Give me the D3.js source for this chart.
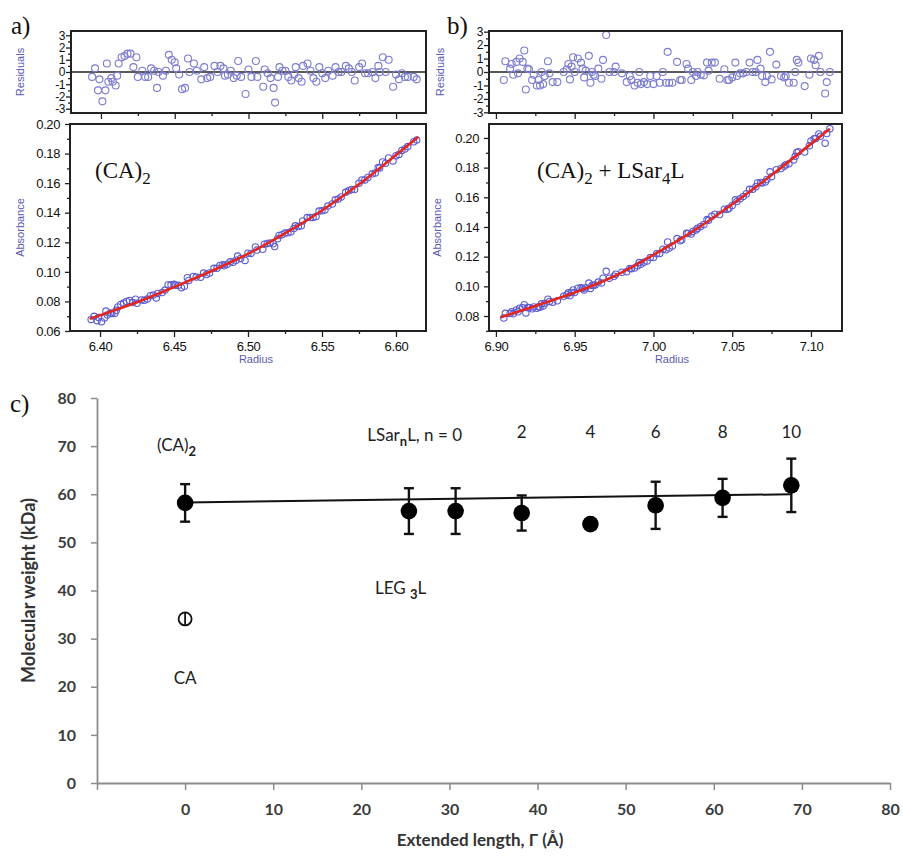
<!DOCTYPE html>
<html>
<head>
<meta charset="utf-8">
<script src="https://cdn.jsdelivr.net/npm/d3@7"></script>
<style>
  body { margin: 0; background: #fff; }
</style>
</head>
<body>
<svg width="903" height="860"></svg>
<script>
// ---- panel a : (CA)2 ----
var radiusA = [6.394,6.396,6.398,6.399,6.401,6.403,6.404,6.405,6.407,6.408,
  6.410,6.411,6.412,6.414,6.416,6.418,6.420,6.422,6.424,6.425,
  6.428,6.430,6.432,6.434,6.436,6.438,6.439,6.442,6.444,6.446,
  6.448,6.450,6.451,6.453,6.455,6.457,6.459,6.460,6.463,6.465,
  6.468,6.470,6.472,6.474,6.477,6.479,6.481,6.483,6.484,6.486,
  6.488,6.490,6.492,6.493,6.495,6.498,6.500,6.502,6.505,6.506,
  6.510,6.511,6.513,6.515,6.517,6.518,6.520,6.521,6.523,6.525,
  6.527,6.529,6.531,6.532,6.534,6.536,6.537,6.540,6.542,6.544,
  6.546,6.548,6.550,6.552,6.554,6.557,6.559,6.561,6.563,6.566,
  6.568,6.570,6.572,6.575,6.577,6.579,6.581,6.584,6.586,6.588,
  6.589,6.591,6.593,6.595,6.598,6.600,6.602,6.604,6.606,6.608,
  6.612,6.614];
var residA = [-0.4,0.3,-1.5,-0.6,-2.4,-1.5,0.7,-0.8,-0.5,-0.8,
  -1.1,-0.3,0.7,1.2,1.3,1.5,1.5,0.4,1.2,-0.4,
  0.1,-0.4,-0.4,0.3,0.1,-1.3,0,-0.3,0.1,1.4,
  1.0,0.8,0.3,-0.2,-1.4,-1.3,1.1,0,0.7,0.1,
  -0.6,0.4,-0.5,-0.4,0.5,0,0.5,0.3,-0.3,-0.2,
  0.1,-0.5,-0.3,0.9,-0.4,-1.8,0.2,-0.4,0.9,-0.4,
  -1.2,0.2,-0.1,-0.5,-1.3,-2.5,-0.4,0.4,0.1,0.1,
  -0.4,-0.7,-0.2,0.4,-0.5,-0.8,0.5,0.7,0.1,-0.5,
  -0.8,0.4,-0.1,-0.5,0.1,-0.3,0.4,0,0,0.5,
  0.3,0,-0.7,0.4,0.7,-0.1,-0.1,0,-0.5,0.5,
  0,1.2,0,1.0,-1.2,-0.2,-0.6,-0.1,-0.4,-0.4,
  -0.4,-0.6];
var absA = [0.0678,0.0699,0.0670,0.0691,0.0663,0.0688,0.0735,0.0709,0.0722,0.0719,
  0.0720,0.0740,0.0763,0.0780,0.0789,0.0800,0.0807,0.0792,0.0815,0.0787,
  0.0810,0.0808,0.0816,0.0839,0.0843,0.0824,0.0854,0.0860,0.0877,0.0911,
  0.0912,0.0916,0.0910,0.0909,0.0893,0.0903,0.0960,0.0942,0.0969,0.0965,
  0.0964,0.0992,0.0982,0.0993,0.1024,0.1024,0.1043,0.1048,0.1041,0.1052,
  0.1068,0.1065,0.1079,0.1107,0.1091,0.1077,0.1126,0.1125,0.1168,0.1147,
  0.1153,0.1187,0.1192,0.1195,0.1190,0.1171,0.1224,0.1246,0.1251,0.1262,
  0.1264,0.1271,0.1293,0.1311,0.1306,0.1312,0.1344,0.1367,0.1367,0.1368,
  0.1374,0.1411,0.1413,0.1419,0.1445,0.1459,0.1487,0.1493,0.1507,0.1538,
  0.1548,0.1557,0.1557,0.1600,0.1622,0.1622,0.1638,0.1663,0.1669,0.1705,
  0.1703,0.1743,0.1735,0.1770,0.1750,0.1786,0.1794,0.1821,0.1831,0.1847,
  0.1880,0.1892];
var fitRadiusA = [6.393,6.400,6.425,6.450,6.475,6.500,6.525,6.550,6.575,6.600,6.615];
var fitAbsA    = [0.0682,0.0707,0.0795,0.0897,0.1004,0.1122,0.1260,0.1415,0.1592,0.1790,0.1912];

// ---- panel b : (CA)2 + LSar4L ----
var radiusB = [6.905,6.906,6.909,6.910,6.911,6.913,6.914,6.915,6.917,6.918,
  6.919,6.920,6.921,6.923,6.924,6.926,6.927,6.928,6.929,6.930,
  6.931,6.933,6.934,6.936,6.939,6.943,6.945,6.946,6.947,6.948,
  6.949,6.950,6.952,6.954,6.955,6.956,6.957,6.959,6.960,6.961,
  6.962,6.963,6.965,6.967,6.968,6.970,6.972,6.975,6.976,6.980,
  6.983,6.985,6.986,6.988,6.990,6.991,6.992,6.994,6.996,6.998,
  7.000,7.002,7.004,7.006,7.008,7.009,7.010,7.012,7.015,7.017,
  7.018,7.021,7.022,7.024,7.025,7.027,7.028,7.030,7.032,7.034,
  7.035,7.037,7.039,7.042,7.045,7.047,7.048,7.050,7.052,7.053,
  7.055,7.057,7.059,7.061,7.063,7.065,7.066,7.068,7.069,7.071,
  7.072,7.074,7.075,7.078,7.081,7.083,7.084,7.086,7.089,7.090,
  7.091,7.092,7.096,7.099,7.100,7.102,7.103,7.105,7.106,7.109,
  7.110,7.112];
var residB = [-0.6,0.8,0.25,0.6,-0.2,0.75,-0.1,1.0,0.75,1.6,
  -1.3,0.25,0.2,-0.6,-0.2,-1.0,-0.6,-1.0,0,-0.9,
  -0.3,0.8,-0.1,-0.75,-0.75,0,0.2,0.6,-0.55,0.4,
  1.1,0,1.0,0.7,0.25,-0.4,0.1,1.2,-0.8,0,
  -0.2,-0.3,0.25,-0.5,0.9,2.75,0,0,0.4,-0.1,
  -0.75,-0.3,-0.6,-1.0,-0.8,0,-0.9,-0.75,-0.9,-0.3,
  -0.9,-0.3,-0.8,0,-0.8,1.5,-0.8,-0.8,0.75,-0.6,
  -0.6,0.6,0.25,-0.6,0,-0.3,0,-0.2,-0.25,0.7,
  0.1,0.7,0.7,-0.5,0.2,-0.6,-0.6,-0.4,0.7,-0.3,
  -0.1,-0.1,0,0.7,0,0,0.9,0.25,-0.3,-0.75,
  -0.3,1.5,-0.55,0.55,-0.3,-0.4,-0.3,-0.8,-0.8,0,
  0.9,0.7,-1.05,-0.2,1.0,0.9,0.5,1.2,0,-1.6,
  -0.75,0];
var absB = [0.0786,0.0818,0.0817,0.0828,0.0815,0.0841,0.0828,0.0853,0.0855,0.0876,
  0.0821,0.0856,0.0858,0.0849,0.0861,0.0852,0.0863,0.0859,0.0882,0.0868,
  0.0884,0.0913,0.0898,0.0893,0.0903,0.0933,0.0944,0.0956,0.0936,0.0959,
  0.0976,0.0958,0.0987,0.0990,0.0985,0.0976,0.0991,0.1022,0.0986,0.1006,
  0.1007,0.1009,0.1029,0.1023,0.1055,0.1101,0.1055,0.1068,0.1082,0.1095,
  0.1099,0.1120,0.1119,0.1123,0.1138,0.1160,0.1148,0.1162,0.1171,0.1194,
  0.1194,0.1219,0.1221,0.1250,0.1247,0.1299,0.1259,0.1272,0.1322,0.1307,
  0.1314,0.1357,0.1356,0.1352,0.1370,0.1379,0.1392,0.1403,0.1416,0.1450,
  0.1445,0.1472,0.1486,0.1484,0.1520,0.1519,0.1526,0.1545,0.1583,0.1571,
  0.1590,0.1606,0.1624,0.1654,0.1655,0.1671,0.1697,0.1700,0.1697,0.1703,
  0.1720,0.1772,0.1739,0.1786,0.1794,0.1809,0.1820,0.1826,0.1852,0.1876,
  0.1902,0.1907,0.1905,0.1948,0.1980,0.1995,0.1996,0.2027,0.2011,0.1965,
  0.2030,0.2062];
var fitRadiusB = [6.903,6.925,6.950,6.975,7.000,7.025,7.050,7.075,7.100,7.112];
var fitAbsB    = [0.0791,0.0868,0.0958,0.1068,0.1212,0.1370,0.1553,0.1750,0.1960,0.2062];

// ---- panel c : molecular weight vs extended length ----
var lengths  = [0, 25.4, 30.7, 38.2, 46.0, 53.4, 61.0, 68.8];
var mw       = [58.2, 56.5, 56.5, 56.1, 53.8, 57.7, 59.25, 61.85];
var mwErr    = [3.9, 4.75, 4.75, 3.65, 0, 4.9, 3.95, 5.55];
var caLength = [0];
var caMw     = [34.1];
var caErr    = [1.3];
var fitLength = [0, 68.8];
var fitMw     = [58.3, 60.0];
var nValues  = ["2", "4", "6", "8", "10"];
var nLengths = [38.2, 46.0, 53.4, 61.0, 68.8];
var xTicksC  = [-10, 0, 10, 20, 30, 40, 50, 60, 70, 80];
var yTicksC  = [0, 10, 20, 30, 40, 50, 60, 70, 80];

var SANS  = "'Liberation Sans', Arial, sans-serif";
var SERIF = "'Liberation Serif', 'Times New Roman', serif";
var CAL   = "Lato, 'Open Sans', sans-serif";
var BLUE_LABEL = "#5a5ab4";

var svg = d3.select("svg");

function styleAxis(sel, size) {
    sel.select(".domain").remove();
    sel.selectAll(".tick line").attr("stroke", "#222").attr("stroke-width", 1.3);
    sel.selectAll(".tick text")
        .attr("fill", "#111")
        .style("font-family", SANS)
        .style("font-size", size + "px")
        .style("letter-spacing", "-0.4px");
}

function range(a, b, step) {
    var out = [];
    for (var v = a; v <= b + 1e-9; v += step) out.push(+v.toFixed(4));
    return out;
}

function drawResiduals(cfg) {
    var x = d3.scaleLinear().domain(cfg.xDomain).range([cfg.left, cfg.right]);
    var y = d3.scaleLinear().domain(cfg.yDomain).range([cfg.bottom, cfg.top]);
    var g = svg.append("g");

    g.append("g").attr("transform", "translate(" + cfg.left + ",0)")
        .call(d3.axisLeft(y).tickValues(range(-2.5, 2.5, 1)).tickSize(3).tickFormat(""))
        .call(styleAxis, 11);
    g.append("g").attr("transform", "translate(" + cfg.left + ",0)")
        .call(d3.axisLeft(y).tickValues(range(-3, 3, 1)).tickSize(5).tickPadding(1)
              .tickFormat(function(d) { return String(d); }))
        .call(styleAxis, 12);
    g.append("g").attr("transform", "translate(0," + cfg.bottom + ")")
        .call(d3.axisBottom(x).tickValues(cfg.minorX).tickSize(3).tickFormat(""))
        .call(styleAxis, 11);
    g.append("g").attr("transform", "translate(0," + cfg.bottom + ")")
        .call(d3.axisBottom(x).tickValues(cfg.majorX).tickSize(6).tickFormat(""))
        .call(styleAxis, 11);

    g.append("line")
        .attr("x1", cfg.left).attr("x2", cfg.right)
        .attr("y1", y(0)).attr("y2", y(0))
        .attr("stroke", "#222").attr("stroke-width", 1.6);

    g.selectAll("circle.res")
        .data(cfg.radius)
      .enter().append("circle")
        .attr("class", "res")
        .attr("cx", function(d) { return x(d); })
        .attr("cy", function(d, i) { return y(cfg.resid[i]); })
        .attr("r", 3.5)
        .attr("fill", "none")
        .attr("stroke", "#7c7cd0")
        .attr("stroke-width", 1.1);

    g.append("rect")
        .attr("x", cfg.left).attr("y", cfg.top)
        .attr("width", cfg.right - cfg.left).attr("height", cfg.bottom - cfg.top)
        .attr("fill", "none").attr("stroke", "#222").attr("stroke-width", 2);

    g.append("text")
        .attr("transform", "translate(" + cfg.labelX + "," + ((cfg.top + cfg.bottom) / 2) + ") rotate(-90)")
        .attr("text-anchor", "middle")
        .attr("dy", "0.35em")
        .attr("fill", BLUE_LABEL)
        .style("font-family", SANS).style("font-size", "11px")
        .text("Residuals");
}

function drawAbsorbance(cfg) {
    var x = d3.scaleLinear().domain(cfg.xDomain).range([cfg.left, cfg.right]);
    var y = d3.scaleLinear().domain(cfg.yDomain).range([cfg.bottom, cfg.top]);
    var g = svg.append("g");

    g.append("g").attr("transform", "translate(" + cfg.left + ",0)")
        .call(d3.axisLeft(y).tickValues(cfg.minorY).tickSize(3).tickFormat(""))
        .call(styleAxis, 12);
    g.append("g").attr("transform", "translate(" + cfg.left + ",0)")
        .call(d3.axisLeft(y).tickValues(cfg.majorY).tickSize(5).tickPadding(5)
              .tickFormat(d3.format(".2f")))
        .call(styleAxis, 13);
    g.append("g").attr("transform", "translate(0," + cfg.bottom + ")")
        .call(d3.axisBottom(x).tickValues(cfg.minorX).tickSize(3).tickFormat(""))
        .call(styleAxis, 12);
    g.append("g").attr("transform", "translate(0," + cfg.bottom + ")")
        .call(d3.axisBottom(x).tickValues(cfg.majorX).tickSize(6).tickPadding(5)
              .tickFormat(d3.format(".2f")))
        .call(styleAxis, 13);

    g.selectAll("circle.abs")
        .data(cfg.radius)
      .enter().append("circle")
        .attr("class", "abs")
        .attr("cx", function(d) { return x(d); })
        .attr("cy", function(d, i) { return y(cfg.abs[i]); })
        .attr("r", 3.2)
        .attr("fill", "none")
        .attr("stroke", "#5c5cd2")
        .attr("stroke-width", 1.1);

    var line = d3.line()
        .curve(d3.curveCatmullRom)
        .x(function(d) { return x(d); })
        .y(function(d, i) { return y(cfg.fitAbs[i]); });

    g.append("path")
        .datum(cfg.fitRadius)
        .attr("d", line)
        .attr("fill", "none")
        .attr("stroke", "#e3261f")
        .attr("stroke-width", 2.6);

    g.append("rect")
        .attr("x", cfg.left).attr("y", cfg.top)
        .attr("width", cfg.right - cfg.left).attr("height", cfg.bottom - cfg.top)
        .attr("fill", "none").attr("stroke", "#222").attr("stroke-width", 2);

    g.append("text")
        .attr("transform", "translate(" + cfg.labelX + "," + (cfg.top + cfg.bottom) / 2 + ") rotate(-90)")
        .attr("text-anchor", "middle")
        .attr("dy", "0.35em")
        .attr("fill", BLUE_LABEL)
        .style("font-family", SANS).style("font-size", "11px")
        .text("Absorbance");

    g.append("text")
        .attr("x", cfg.radiusLabelX).attr("y", 363)
        .attr("text-anchor", "middle")
        .attr("fill", BLUE_LABEL)
        .style("font-family", SANS).style("font-size", "11px")
        .text("Radius");

    var t = g.append("text")
        .attr("x", cfg.titleX).attr("y", 178)
        .attr("fill", "#111")
        .style("font-family", SERIF).style("font-size", "23px");
    cfg.title(t);
}

// panel a
drawResiduals({
    left: 71, right: 426, top: 31, bottom: 113,
    xDomain: [6.3797, 6.6203], yDomain: [-3.35, 3.35],
    majorX: range(6.40, 6.60, 0.05), minorX: range(6.425, 6.60, 0.05),
    radius: radiusA, resid: residA, labelX: 20
});
drawAbsorbance({
    left: 70, right: 426, top: 124, bottom: 331,
    xDomain: [6.3797, 6.6203], yDomain: [0.06, 0.20],
    majorX: range(6.40, 6.60, 0.05), minorX: range(6.425, 6.60, 0.05),
    majorY: range(0.06, 0.20, 0.02), minorY: range(0.07, 0.19, 0.02),
    radius: radiusA, abs: absA, fitRadius: fitRadiusA, fitAbs: fitAbsA,
    labelX: 20, radiusLabelX: 256, titleX: 95,
    title: function(t) {
        t.append("tspan").text("(CA)");
        t.append("tspan").attr("dy", 6).style("font-size", "17px").text("2");
    }
});

// panel b
drawResiduals({
    left: 489, right: 842, top: 31, bottom: 113,
    xDomain: [6.8956, 7.1197], yDomain: [-3.05, 3.05],
    majorX: range(6.90, 7.10, 0.05), minorX: range(6.925, 7.10, 0.05),
    radius: radiusB, resid: residB, labelX: 440
});
drawAbsorbance({
    left: 489, right: 842, top: 124, bottom: 331,
    xDomain: [6.8956, 7.1197], yDomain: [0.0699, 0.2094],
    majorX: range(6.90, 7.10, 0.05), minorX: range(6.925, 7.10, 0.05),
    majorY: range(0.08, 0.20, 0.02), minorY: range(0.07, 0.21, 0.02).filter(function(d) { return d < 0.209; }),
    radius: radiusB, abs: absB, fitRadius: fitRadiusB, fitAbs: fitAbsB,
    labelX: 437, radiusLabelX: 672, titleX: 537,
    title: function(t) {
        t.append("tspan").text("(CA)");
        t.append("tspan").attr("dy", 6).style("font-size", "17px").text("2");
        t.append("tspan").attr("dy", -6).text(" + LSar");
        t.append("tspan").attr("dy", 6).style("font-size", "17px").text("4");
        t.append("tspan").attr("dy", -6).text("L");
    }
});

// panel letters
svg.append("text").attr("x", 11).attr("y", 34)
    .style("font-family", SERIF).style("font-size", "25px").attr("fill", "#111").text("a)");
svg.append("text").attr("x", 447).attr("y", 34)
    .style("font-family", SERIF).style("font-size", "25px").attr("fill", "#111").text("b)");
svg.append("text").attr("x", 10).attr("y", 412)
    .style("font-family", SERIF).style("font-size", "25px").attr("fill", "#111").text("c)");

// ---- panel c ----
var xc = d3.scaleLinear().domain([-10, 80]).range([97, 890]);
var yc = d3.scaleLinear().domain([0, 80]).range([783, 398]);
var gc = svg.append("g");

function styleExcel(sel) {
    sel.select(".domain").attr("stroke", "#8c8c8c").attr("stroke-width", 1.8);
    sel.selectAll(".tick line").attr("stroke", "#8c8c8c").attr("stroke-width", 1.5);
    sel.selectAll(".tick text")
        .attr("fill", "#3c3c3c")
        .style("font-family", CAL)
        .style("font-weight", "bold")
        .style("font-size", "16px");
}

gc.append("g")
    .attr("transform", "translate(0," + yc(0) + ")")
    .call(d3.axisBottom(xc).tickValues(xTicksC).tickSize(7).tickSizeOuter(0).tickPadding(14)
          .tickFormat(function(d) { return d < 0 ? "" : d; }))
    .call(styleExcel);

gc.append("g")
    .attr("transform", "translate(" + xc(-10) + ",0)")
    .call(d3.axisLeft(yc).tickValues(yTicksC).tickSize(6).tickSizeOuter(0).tickPadding(15))
    .call(styleExcel);

gc.append("text")
    .attr("transform", "translate(29," + (yc(40)) + ") rotate(-90)")
    .attr("text-anchor", "middle")
    .attr("dy", "0.35em")
    .attr("fill", "#333")
    .style("font-family", CAL).style("font-weight", "bold").style("font-size", "18px")
    .text("Molecular weight (kDa)");

gc.append("text")
    .attr("x", 480).attr("y", 846)
    .attr("text-anchor", "middle")
    .attr("fill", "#333")
    .style("font-family", CAL).style("font-weight", "bold").style("font-size", "17px")
    .text("Extended length, \u0393 (\u00c5)");

// fit line
gc.append("line")
    .attr("x1", xc(fitLength[0])).attr("x2", xc(fitLength[1]))
    .attr("y1", yc(fitMw[0])).attr("y2", yc(fitMw[1]))
    .attr("stroke", "#111").attr("stroke-width", 2);

// error bars
var pts = lengths.map(function(d, i) { return {x: d, y: mw[i], e: mwErr[i]}; });
var eb = gc.selectAll("g.err")
    .data(pts.filter(function(d) { return d.e > 0; }))
  .enter().append("g")
    .attr("class", "err")
    .attr("stroke", "#111").attr("stroke-width", 2.4);
eb.append("line")
    .attr("x1", function(d) { return xc(d.x); }).attr("x2", function(d) { return xc(d.x); })
    .attr("y1", function(d) { return yc(d.y - d.e); }).attr("y2", function(d) { return yc(d.y + d.e); });
eb.append("line")
    .attr("x1", function(d) { return xc(d.x) - 5; }).attr("x2", function(d) { return xc(d.x) + 5; })
    .attr("y1", function(d) { return yc(d.y - d.e); }).attr("y2", function(d) { return yc(d.y - d.e); });
eb.append("line")
    .attr("x1", function(d) { return xc(d.x) - 5; }).attr("x2", function(d) { return xc(d.x) + 5; })
    .attr("y1", function(d) { return yc(d.y + d.e); }).attr("y2", function(d) { return yc(d.y + d.e); });

gc.selectAll("circle.mw")
    .data(pts)
  .enter().append("circle")
    .attr("class", "mw")
    .attr("cx", function(d) { return xc(d.x); })
    .attr("cy", function(d) { return yc(d.y); })
    .attr("r", 8.3)
    .attr("fill", "#000");

// monomer CA, open symbol
gc.selectAll("circle.ca")
    .data(caLength)
  .enter().append("circle")
    .attr("class", "ca")
    .attr("cx", function(d) { return xc(d); })
    .attr("cy", function(d, i) { return yc(caMw[i]); })
    .attr("r", 6.5)
    .attr("fill", "#fff")
    .attr("stroke", "#111").attr("stroke-width", 1.8);
gc.selectAll("line.caerr")
    .data(caLength)
  .enter().append("line")
    .attr("class", "caerr")
    .attr("x1", function(d) { return xc(d); }).attr("x2", function(d) { return xc(d); })
    .attr("y1", function(d, i) { return yc(caMw[i] - caErr[i]); })
    .attr("y2", function(d, i) { return yc(caMw[i] + caErr[i]); })
    .attr("stroke", "#111").attr("stroke-width", 1.8);

// annotations
function note(x, y, anchor) {
    return gc.append("text")
        .attr("x", x).attr("y", y)
        .attr("text-anchor", anchor || "start")
        .attr("fill", "#222")
        .style("font-family", CAL).style("font-size", "17px");
}

var t1 = note(157, 451);
t1.append("tspan").text("(CA)");
t1.append("tspan").attr("dy", 5).style("font-size", "13px").style("font-weight", "bold").text("2");

var t2 = note(462, 441, "end");
t2.append("tspan").text("LSar");
t2.append("tspan").attr("dy", 5).style("font-size", "13px").style("font-weight", "bold").text("n");
t2.append("tspan").attr("dy", -5).text("L, n = 0");

gc.selectAll("text.nval")
    .data(nValues)
  .enter().append("text")
    .attr("class", "nval")
    .attr("x", function(d, i) { return xc(nLengths[i]); })
    .attr("y", 438)
    .attr("text-anchor", "middle")
    .attr("fill", "#222")
    .style("font-family", CAL).style("font-size", "17px")
    .text(function(d) { return d; });

var t3 = note(375, 594);
t3.append("tspan").text("LEG ");
t3.append("tspan").attr("dy", 5).style("font-size", "13px").style("font-weight", "bold").text("3");
t3.append("tspan").attr("dy", -5).text("L");

note(xc(0), 684, "middle").text("CA");
</script>
</body>
</html>
